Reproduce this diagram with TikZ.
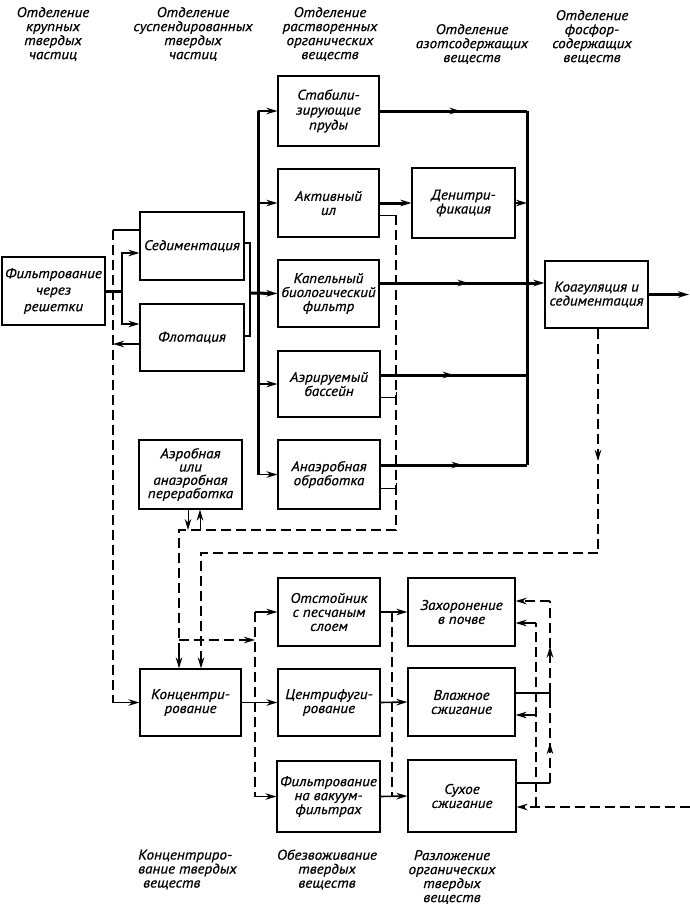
\documentclass[tikz,border=0pt]{standalone}
\usepackage{fontspec}
\setmainfont{PT Sans}[FakeStretch=1.08,FakeBold=0.6]
\usetikzlibrary{arrows.meta,decorations.markings,calc}
\newcommand\lblfont{\itshape\fontsize{14}{14}\selectfont}
\begin{document}
\begin{tikzpicture}[x=1pt,y=-1pt,
 >={Stealth[length=11pt,width=6.5pt,inset=3.5pt]},
 box/.style={draw,line width=1.1pt,inner sep=0pt,align=center,font=\lblfont},
 hdr/.style={align=center,font=\lblfont,inner sep=0pt},
 main/.style={line width=3pt},
 flow/.style={line width=1.6pt},
 thinl/.style={line width=1pt},
 sludge/.style={line width=1.9pt,dash pattern=on 10pt off 5pt},
 midarrow/.style={postaction={decorate},decoration={markings,mark=at position #1 with {\arrow{>}}}},
 twoarrows/.style={postaction={decorate},decoration={markings,mark=at position 0.22 with {\arrow{>}},mark=at position 0.75 with {\arrow{>}}}},
]
\useasboundingbox (0,0) rectangle (690,910);

% headers
\node[hdr] (h1) at (53,34) {Отделение\\крупных\\твердых\\частиц};
\node[hdr] (h2) at (193,34) {Отделение\\суспендированных\\твердых\\частиц};
\node[hdr] (h3) at (330,34) {Отделение\\растворенных\\органических\\веществ};
\node[hdr] (h4) at (472,44) {Отделение\\азотсодержащих\\веществ};
\node[hdr] (h5) at (592,37) {Отделение\\фосфор-\\содержащих\\веществ};
\node[hdr,align=left,anchor=west] (b1) at (138,869.5) {Концентриро-\\вание твердых\\\hspace{5pt}веществ};
\node[hdr] (b2) at (327,869.5) {Обезвоживание\\твердых\\веществ};
\node[hdr] (b3) at (452,877) {Разложение\\органических\\твердых\\веществ};

% boxes
\node[box,minimum width=103,minimum height=68,font=\itshape\fontsize{14}{16.5}\selectfont] (filt) at (53.5,291) {Фильтрование\\через\\решетки};
\node[box,minimum width=104,minimum height=68] (sed) at (192,246) {Седиментация};
\node[box,minimum width=104,minimum height=67] (flot) at (192,337.5) {Флотация};
\node[box,minimum width=101,minimum height=70,font=\itshape\fontsize{14}{15}\selectfont] (stab) at (328.5,111) {Стабили-\\зирующие\\пруды};
\node[box,minimum width=101,minimum height=68] (akt) at (328.5,203) {Активный\\ил};
\node[box,minimum width=101,minimum height=67] (kap) at (328.5,293.5) {Капельный\\биологический\\фильтр};
\node[box,minimum width=102,minimum height=66] (aer) at (329,384) {Аэрируемый\\бассейн};
\node[box,minimum width=102,minimum height=69] (anaer) at (329,474.5) {Анаэробная\\обработка};
\node[box,minimum width=103,minimum height=70] (denit) at (463.5,203) {Денитри-\\фикация};
\node[box,minimum width=103,minimum height=67] (coag) at (596.5,294.5) {Коагуляция и\\седиментация};
\node[box,minimum width=103,minimum height=69,font=\itshape\fontsize{14}{13.3}\selectfont] (aerob) at (190.5,474.5) {Аэробная\\или\\анаэробная\\переработка};
\node[box,minimum width=101,minimum height=67] (konc) at (190.5,702.5) {Концентри-\\рование};
\node[box,minimum width=102,minimum height=68] (otst) at (329,612) {Отстойник\\с песчаным\\слоем};
\node[box,minimum width=102,minimum height=67] (centr) at (329,702.5) {Центрифуги-\\рование};
\node[box,minimum width=103,minimum height=71] (vak) at (328.5,796.5) {Фильтрование\\на вакуум-\\фильтрах};
\node[box,minimum width=107,minimum height=68] (zah) at (461.5,612) {Захоронение\\в почве};
\node[box,minimum width=107,minimum height=68] (vlazh) at (461.5,702) {Влажное\\сжигание};
\node[box,minimum width=108,minimum height=72] (suh) at (462,796) {Сухое\\сжигание};

% coordinates
\coordinate (fb) at (122,291);
\coordinate (sf) at (250,293);
\coordinate (bt) at (258,111);
\coordinate (bb) at (258,474.5);
\coordinate (rbt) at (527,111);
\coordinate (rbb) at (527,465);
\coordinate (L1) at (113,230);
\coordinate (L2) at (113,702.5);
\coordinate (A1) at (396,215);
\coordinate (A2) at (396,530);
\coordinate (A3) at (179,530);
\coordinate (A4) at (179,652);
\coordinate (C1) at (598,553);
\coordinate (C2) at (201,553);
\coordinate (C3) at (201,652);
\coordinate (B1) at (179,640);
\coordinate (B2) at (255,640);
\coordinate (V1) at (255,612);
\coordinate (V2) at (255,796.5);
\coordinate (W1) at (392,612);
\coordinate (W2) at (392,796);
\coordinate (R1a) at (550,783);
\coordinate (R1b) at (550,601);
\coordinate (R2a) at (536,807);
\coordinate (R2b) at (536,623);
\coordinate (E) at (690,807);
\coordinate (out) at (689,294.5);

% main flow
\draw[main] (filt.east) -- (fb);
\draw[flow,->] (fb) |- ([yshift=-7pt]sed.west);
\draw[flow,->] (fb) |- ([yshift=13.5pt]flot.west);
\draw[flow] ([yshift=3pt]sed.east) -| (sf) |- ([yshift=1.5pt]flot.east);
\draw[main,->] (sf) -- (kap.west);
\draw[main] (bt) -- (bb);
\foreach \b in {stab,akt,aer,anaer} \draw[flow,->] (\b.west -| bt) -- (\b.west);

\draw[main,midarrow=0.55] (stab.east) -- (rbt);
\draw[main] (rbt) -- (rbb);
\path ([yshift=9.5pt]anaer.east) coordinate (anO);
\draw[main,midarrow=0.56] (anO) -- (anO -| rbt);
\path ([yshift=9pt]aer.east) coordinate (aeO);
\draw[main,midarrow=0.5] (aeO) -- (aeO -| rbt);
\draw[main,->] (akt.east) -- (denit.west);
\draw[flow,->] (denit.east) -- (denit.east -| rbt);
\path ([yshift=10.5pt]kap.east) coordinate (kaO);
\draw[main,midarrow=0.54,->] (kaO) -- (kaO -| coag.west);
\draw[main,->] (coag.east) -- (out);

% sludge lines
\path ([yshift=16pt]sed.west) coordinate (sW);
\draw[flow] (sW) -- (L1);
\draw[sludge] (L1) -- (L2);
\draw[flow,->] (L2) -- (konc.west);
\path ([yshift=-6.5pt]flot.west) coordinate (fW);
\draw[flow,->] (fW) -- (fW -| L1);

\path ([yshift=-12pt]akt.east) coordinate (aK);
\draw[thinl] (aK) -- (A1);
\draw[sludge] (A1) -- (A2) -- (A3) -- (A4);
\draw[flow,->] (A4) -- (A4 |- konc.north);
\path ([yshift=-13pt]aer.east) coordinate (aeT);
\draw[thinl] (aeT) -- (aeT -| A1);
\draw[thinl] ($(aeT -| A1)+(0,-5)$) -- ($(aeT -| A1)+(0,5)$);
\path ([yshift=-13.5pt]anaer.east) coordinate (anT);
\draw[thinl] (anT) -- (anT -| A1);
\draw[thinl] ($(anT -| A1)+(0,-5)$) -- ($(anT -| A1)+(0,5)$);

\path ([xshift=1.5pt]coag.south) coordinate (cS);
\draw[sludge,midarrow=0.59] (cS) -- (C1);
\draw[sludge] (C1) -- (C2) -- (C3);
\draw[flow,->] (C3) -- (C3 |- konc.north);

\path ([xshift=-2.5pt]aerob.south) coordinate (aD);
\path ([xshift=9.5pt]aerob.south) coordinate (aU);
\draw[thinl,->] (aD) -- (aD |- A3);
\draw[thinl,->] (aU |- A3) -- (aU);

\draw[sludge,->] (B1) -- (B2);
\draw[flow,->] (V1) -- (otst.west);
\draw[sludge] (V1) -- (V2);
\draw[flow,->] (V2) -- (vak.west);
\draw[flow,->] (konc.east) -- (centr.west);

\draw[flow,->] (otst.east) -- (zah.west);
\draw[sludge] (W1) -- (W2);
\draw[flow,->] (vak.east) -- (suh.west);
\draw[flow,->] (centr.east) -- (vlazh.west);

\path ([yshift=13pt]suh.east) coordinate (sO);
\draw[flow] (sO) -- (R1a);
\draw[sludge,twoarrows] (R1a) -- (R1b);
\draw[sludge,->] (R1b) -- (R1b -| zah.east);
\path ([yshift=9pt]vlazh.east) coordinate (vO);
\draw[flow] (vO) -- (vO -| R1a);
\draw[flow] ($(vO -| R1a)+(0,-5)$) -- ($(vO -| R1a)+(0,5)$);
\draw[sludge] (R2a) -- (R2b);
\draw[flow,->] (R2b) -- (R2b -| zah.east);
\path ([yshift=-13pt]vlazh.east) coordinate (vI);
\draw[flow,->] (vI -| R2a) -- (vI);
\draw[sludge,->] (E) -- (E -| suh.east);
\end{tikzpicture}
\end{document}
